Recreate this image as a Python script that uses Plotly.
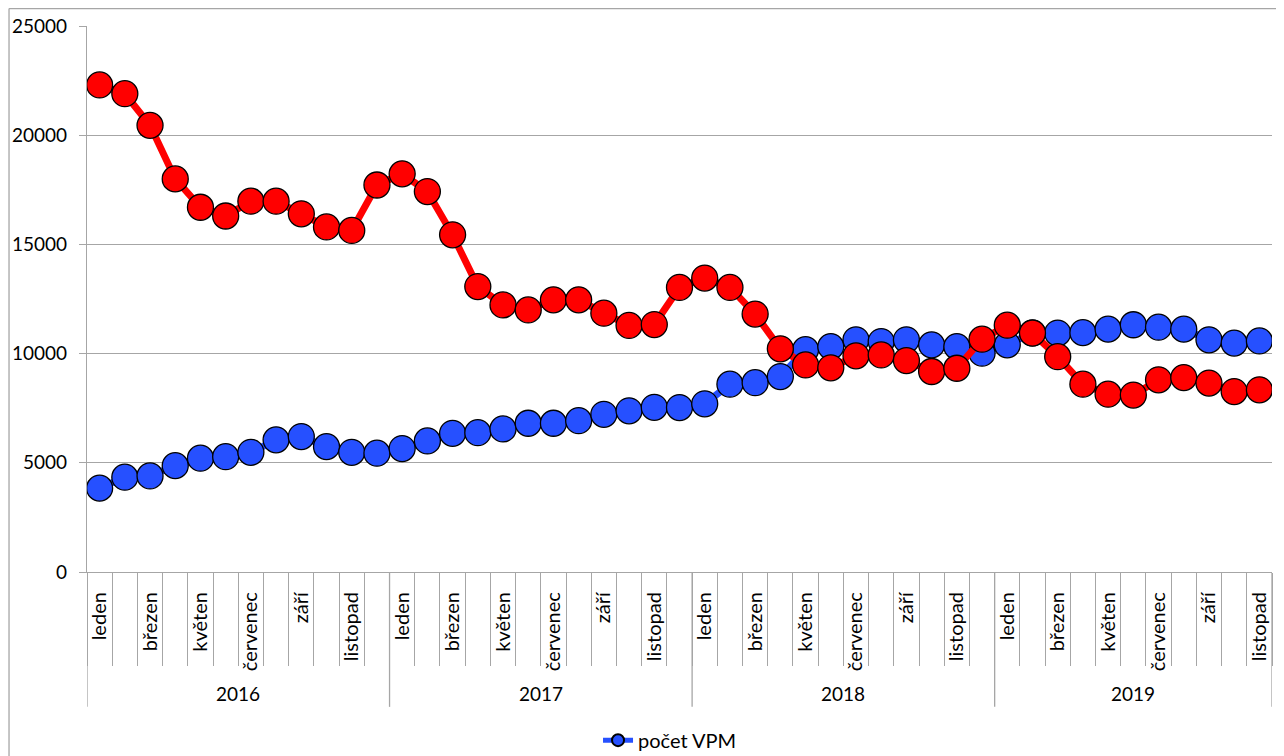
import plotly.graph_objects as go

# ---------------- data ----------------
years = ["2016", "2017", "2018", "2019"]
months_per_year = [12, 12, 12, 11]
month_names = ["leden", "únor", "březen", "duben", "květen", "červen",
               "červenec", "srpen", "září", "říjen", "listopad", "prosinec"]
shown_months = ["leden", "březen", "květen", "červenec", "září", "listopad"]

pocet_vpm = [3840, 4340, 4400, 4870, 5210, 5280, 5480, 6050, 6200, 5740, 5480, 5440,
             5650, 6000, 6350, 6380, 6550, 6810, 6810, 6930, 7220, 7380, 7540, 7530,
             7700, 8600, 8670, 8950, 10180, 10320,
             10630, 10550, 10630, 10400, 10320, 10020,
             10400, 10950, 10940, 10960, 11120, 11320, 11210, 11120, 10630, 10480, 10580]

pocet_uchazecu = [22300, 21900, 20450, 18000, 16700, 16300, 16980, 16980, 16400, 15800, 15640, 17720,
                  18230, 17420, 15440, 13070, 12230, 12000, 12460, 12460, 11850, 11290, 11330, 13030,
                  13460, 13030, 11810, 10220, 9480, 9350,
                  9900, 9940, 9680, 9180, 9330, 10660,
                  11300, 10940, 9860, 8600, 8140, 8100, 8800, 8900, 8650, 8260, 8340]

# ---------------- derived categories ----------------
x_idx, tick_vals, tick_text = [], [], []
year_starts, year_centers = [], []
i = 0
for y, n in zip(years, months_per_year):
    year_starts.append(i - 0.5)
    year_centers.append(i + (n - 1) / 2)
    for m in range(n):
        x_idx.append(i)
        if month_names[m] in shown_months:
            tick_vals.append(i)
            tick_text.append(month_names[m])
        i += 1
year_starts.append(i - 0.5)

FONT = "Lato"
GRID = "#a6a6a6"
BLUE = "#2650ff"
RED = "#ff0000"

fig = go.Figure()
fig.add_trace(go.Scatter(
    x=x_idx, y=pocet_vpm, name="počet VPM", mode="lines+markers",
    line=dict(color=BLUE, width=7),
    marker=dict(size=26, color=BLUE, line=dict(color="black", width=1.3)),
))
fig.add_trace(go.Scatter(
    x=x_idx, y=pocet_uchazecu, name="počet uchazečů", mode="lines+markers",
    line=dict(color=RED, width=7), showlegend=False,
    marker=dict(size=26, color=RED, line=dict(color="black", width=1.3)),
))

# year dividers and year labels
for xs in year_starts:
    fig.add_shape(type="line", xref="x", yref="paper", x0=xs, x1=xs, y0=0, y1=-0.247,
                  line=dict(color=GRID, width=1.3))
for y, xc in zip(years, year_centers):
    fig.add_annotation(x=xc, xref="x", y=-0.222, yref="paper", text=y, showarrow=False,
                       font=dict(family=FONT, size=19, color="black"), yanchor="middle")

# outer chart frame (top and left edges)
fig.add_shape(type="line", xref="paper", yref="paper", x0=-0.0658, x1=1.05, y0=1.032, y1=1.032,
              line=dict(color=GRID, width=1.3))
fig.add_shape(type="line", xref="paper", yref="paper", x0=-0.0658, x1=-0.0658, y0=1.032, y1=-0.4,
              line=dict(color=GRID, width=1.3))

fig.update_xaxes(
    range=[-0.5, len(x_idx) - 0.5],
    tickmode="array", tickvals=tick_vals, ticktext=tick_text, tickangle=-90,
    ticks="", showgrid=False, zeroline=False, automargin=False,
    showline=True, linecolor=GRID, linewidth=1.3,
    tickfont=dict(family=FONT, size=20, color="black"),
    ticklabelstandoff=11,
    minor=dict(ticks="outside", tickmode="linear", tick0=-0.5, dtick=1, ticklen=93,
               tickcolor=GRID, tickwidth=1.3, showgrid=False),
)
fig.update_yaxes(
    range=[0, 25000], dtick=5000, tickformat="d",
    ticks="outside", ticklen=7, tickcolor=GRID, tickwidth=1.3,
    showgrid=True, gridcolor=GRID, gridwidth=1.3, zeroline=False, automargin=False,
    showline=True, linecolor=GRID, linewidth=1.3,
    tickfont=dict(family=FONT, size=19, color="black"),
    ticklabelstandoff=8,
)

fig.update_layout(
    width=1284, height=756,
    margin=dict(l=79, r=20, t=18, b=192, autoexpand=False),
    paper_bgcolor="white", plot_bgcolor="white",
    showlegend=True,
    legend=dict(orientation="h", x=0.492, xanchor="center", y=-0.308, yanchor="middle",
                font=dict(family=FONT, size=20, color="black"), itemsizing="constant",
                bgcolor="rgba(0,0,0,0)"),
)

fig.write_html("out.html")
